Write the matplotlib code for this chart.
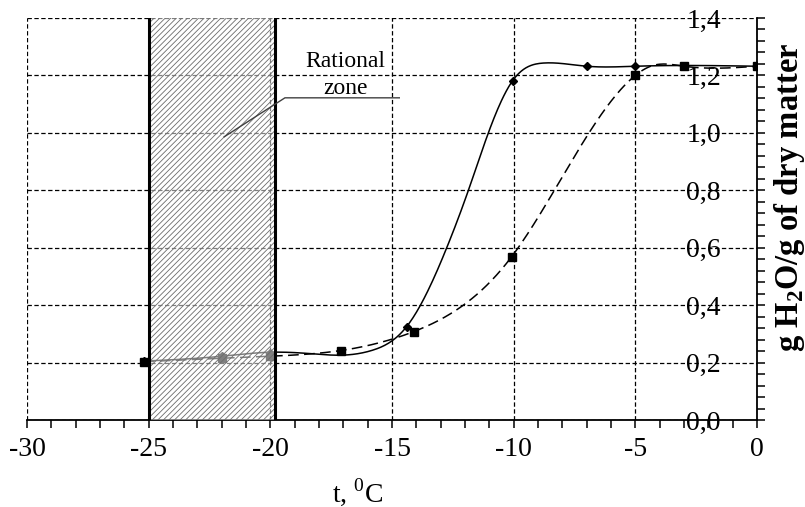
import numpy as np
import matplotlib
matplotlib.use("Agg")
import matplotlib.pyplot as plt
from matplotlib.patches import Rectangle
from matplotlib.ticker import MultipleLocator, FuncFormatter

plt.rcParams['font.family'] = ['Liberation Serif', 'DejaVu Serif']
plt.rcParams['mathtext.fontset'] = 'custom'
plt.rcParams['mathtext.rm'] = 'Liberation Serif'
plt.rcParams['mathtext.bf'] = 'Liberation Serif:bold'
plt.rcParams['hatch.linewidth'] = 0.6

# ---- data ----
# measured points
t_solid = [-25.2, -22.0, -20.0, -14.4, -10.04, -7.0, -5.0, 0.0]
w_solid = [0.205, 0.222, 0.232, 0.325, 1.182, 1.232, 1.232, 1.232]

t_dashed = [-25.2, -22.0, -20.0, -17.1, -14.1, -10.08, -5.0, -3.0, 0.0]
w_dashed = [0.203, 0.215, 0.222, 0.242, 0.308, 0.569, 1.200, 1.232, 1.232]

# smoothed curves as traced on the picture
t_solid_curve = [-25.2, -22.0, -20.0, -18.5, -17.0, -15.8, -14.4,
                 -12.75, -11.86, -11.04, -10.04, -8.8, -7.0, -5.0, 0.0]
w_solid_curve = [0.205, 0.222, 0.236, 0.232, 0.226, 0.243, 0.325,
                 0.600, 0.800, 1.000, 1.182, 1.243, 1.232, 1.232, 1.232]

t_dashed_curve = [-25.2, -22.0, -20.0, -17.1, -14.1, -10.08, -5.0, -4.3, -3.0, 0.0]
w_dashed_curve = [0.203, 0.215, 0.222, 0.242, 0.308, 0.569, 1.200, 1.234, 1.232, 1.232]

zone = (-25.0, -19.8)
x_ticks = [-30, -25, -20, -15, -10, -5, 0]
y_ticks = [0.0, 0.2, 0.4, 0.6, 0.8, 1.0, 1.2, 1.4]


def natural_spline(x, y, n=500):
    x = np.asarray(x, float)
    y = np.asarray(y, float)
    m = len(x)
    h = np.diff(x)
    A = np.zeros((m, m))
    b = np.zeros(m)
    A[0, 0] = A[-1, -1] = 1.0
    for i in range(1, m - 1):
        A[i, i - 1] = h[i - 1]
        A[i, i] = 2 * (h[i - 1] + h[i])
        A[i, i + 1] = h[i]
        b[i] = 6 * ((y[i + 1] - y[i]) / h[i] - (y[i] - y[i - 1]) / h[i - 1])
    M = np.linalg.solve(A, b)
    xs = np.linspace(x[0], x[-1], n)
    idx = np.clip(np.searchsorted(x, xs) - 1, 0, m - 2)
    x0, x1 = x[idx], x[idx + 1]
    hh = x1 - x0
    a = (x1 - xs) / hh
    c = (xs - x0) / hh
    ys = (a * y[idx] + c * y[idx + 1]
          + ((a ** 3 - a) * M[idx] + (c ** 3 - c) * M[idx + 1]) * hh ** 2 / 6)
    return xs, ys


fig = plt.figure(figsize=(8.05, 5.07), dpi=100)
ax = fig.add_axes([27 / 805, 1 - 420 / 507, (757 - 27) / 805, (420 - 18) / 507])

ax.set_xlim(-30, 0)
ax.set_ylim(0, 1.4)

# grid
ax.set_xticks(x_ticks)
ax.set_yticks(y_ticks)
ax.xaxis.set_minor_locator(MultipleLocator(1))
ax.yaxis.set_minor_locator(MultipleLocator(0.04))
ax.grid(True, which='major', color='black', linestyle=(0, (3.5, 2)), linewidth=0.9)

# curves
xs, ys = natural_spline(t_solid_curve, w_solid_curve)
ax.plot(xs, ys, color='black', lw=1.1, zorder=3)
ax.plot(t_solid, w_solid, linestyle='none', marker='D', ms=4, color='black', zorder=4)

xd, yd = natural_spline(t_dashed_curve, w_dashed_curve)
ax.plot(xd, yd, color='black', lw=1.1, linestyle=(0, (7, 3.5)), zorder=3)
ax.plot(t_dashed, w_dashed, linestyle='none', marker='s', ms=6, color='black', zorder=4)

# rational zone (hatched, on top so the data inside looks grey)
ax.add_patch(Rectangle((zone[0], 0), zone[1] - zone[0], 1.4,
                       facecolor=(1, 1, 1, 0.5), edgecolor='0.42', hatch='//////',
                       linewidth=0, zorder=5))
for z in zone:
    ax.axvline(z, color='black', lw=2.2, zorder=6)

# annotation
ax.plot([-21.9, -19.4, -14.7], [0.986, 1.122, 1.122], color='0.25', lw=1.0, zorder=7)
ax.text(-16.9, 1.25, 'Rational', ha='center', va='center', fontsize=17, zorder=7)
ax.text(-16.9, 1.155, 'zone', ha='center', va='center', fontsize=17, zorder=7)

# spines
for s in ['top', 'left']:
    ax.spines[s].set_visible(False)
ax.spines['right'].set_linewidth(1.3)
ax.spines['bottom'].set_linewidth(1.3)

# ticks
ax.tick_params(axis='x', which='both', direction='out', length=6, width=1.1,
               labelsize=20, pad=6)
ax.xaxis.set_major_formatter(FuncFormatter(lambda v, p: f"{int(v)}"))
ax.tick_params(axis='y', which='both', direction='out', length=6, width=1.1,
               left=False, right=True, labelleft=False, labelright=True,
               labelsize=20, pad=-32)
ax.yaxis.set_major_formatter(FuncFormatter(lambda v, p: f"{v:.1f}".replace('.', ',')))
for lab in ax.get_yticklabels():
    lab.set_horizontalalignment('right')

ax.set_xlabel(r't, $^{0}$C', fontsize=20)
ax.xaxis.set_label_coords((358 - 27) / 730, -0.14)

ax.yaxis.set_label_position('right')
ax.set_ylabel(r'g H$_{\mathbf{2}}$O/g of dry matter', fontsize=23.5, fontweight='bold',
              rotation=90, va='center', ha='center')
ax.yaxis.set_label_coords((789 - 27) / 730, 0.555)

fig.savefig('out.png', dpi=100)
